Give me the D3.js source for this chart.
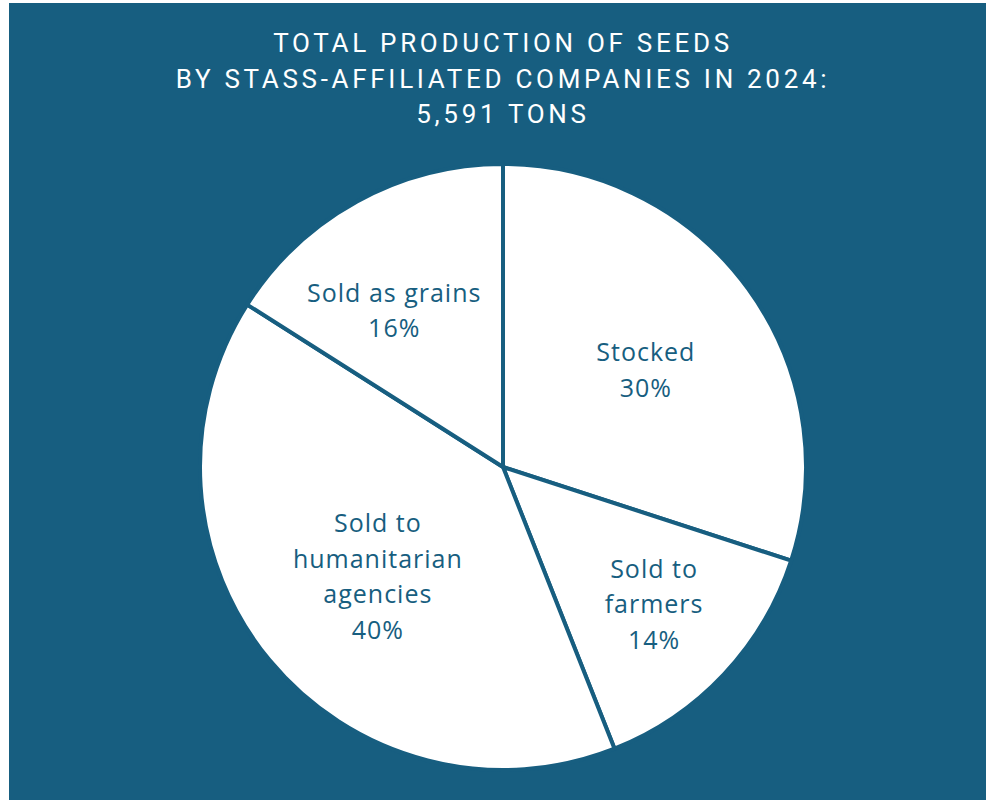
<!DOCTYPE html>
<html>
<head>
<meta charset="utf-8">
<script src="https://cdn.jsdelivr.net/npm/d3@7"></script>
<style>
    body { margin: 0; background: #fff; }
    svg { display: block; }
    .title { font-family: Roboto, sans-serif; font-size: 26px; fill: #fff; letter-spacing: 3.7px; }
    .slice-label { font-family: 'Open Sans', sans-serif; font-size: 25px; fill: #175e80; letter-spacing: 1px; }
</style>
</head>
<body>
<div id="chart"></div>
<script>
// data
const categories = ['Stocked', 'Sold to farmers', 'Sold to humanitarian agencies', 'Sold as grains'];
const shares = [30, 14, 40, 16];
const labelLines = [
    ['Stocked'],
    ['Sold to', 'farmers'],
    ['Sold to', 'humanitarian', 'agencies'],
    ['Sold as grains']
];
const titleLines = ['TOTAL PRODUCTION OF SEEDS', 'BY STASS-AFFILIATED COMPANIES IN 2024:', '5,591 TONS'];

// label placement: distance from centre (part of radius) and angle nudge in degrees
const labelRadius = [0.57, 0.674, 0.549, 0.629];
const labelNudge = [1.8, -0.9, -1.6, -6];

const width = 986, height = 800;
const bg = '#175e80';
const cx = 503, cy = 467, radius = 303;

const svg = d3.select('#chart')
    .append('svg')
    .attr('width', width)
    .attr('height', height);

svg.append('rect')
    .attr('x', 9)
    .attr('y', 3)
    .attr('width', width - 9)
    .attr('height', height - 3)
    .attr('fill', bg);

svg.selectAll('.title')
    .data(titleLines)
    .enter().append('text')
    .attr('class', 'title')
    .attr('x', 503)
    .attr('y', (d, i) => 52 + i * 35.5)
    .attr('text-anchor', 'middle')
    .text(d => d);

const data = categories.map((c, i) => ({
    name: c, value: shares[i], lines: labelLines[i], lr: labelRadius[i], nudge: labelNudge[i]
}));

const pie = d3.pie()
    .value(d => d.value)
    .sort(null);

const arc = d3.arc()
    .innerRadius(0)
    .outerRadius(radius);

const g = svg.append('g')
    .attr('transform', `translate(${cx},${cy})`);

const arcs = pie(data);

g.selectAll('.slice')
    .data(arcs)
    .enter().append('path')
    .attr('class', 'slice')
    .attr('d', arc)
    .attr('fill', '#fff')
    .attr('stroke', bg)
    .attr('stroke-width', 4)
    .attr('stroke-linejoin', 'round');

const labels = g.selectAll('.slice-label')
    .data(arcs)
    .enter().append('text')
    .attr('class', 'slice-label')
    .attr('text-anchor', 'middle')
    .attr('transform', d => {
        const r = radius * d.data.lr;
        const a = (d.startAngle + d.endAngle) / 2 + d.data.nudge * Math.PI / 180;
        return `translate(${r * Math.sin(a)},${-r * Math.cos(a)})`;
    });

labels.each(function (d) {
    const lines = d.data.lines.concat([d.data.value + '%']);
    const lh = 35.5;
    const y0 = -(lines.length - 1) * lh / 2 + 9;
    d3.select(this).selectAll('tspan')
        .data(lines)
        .enter().append('tspan')
        .attr('x', 0)
        .attr('y', (t, i) => y0 + i * lh)
        .text(t => t);
});
</script>
</body>
</html>
